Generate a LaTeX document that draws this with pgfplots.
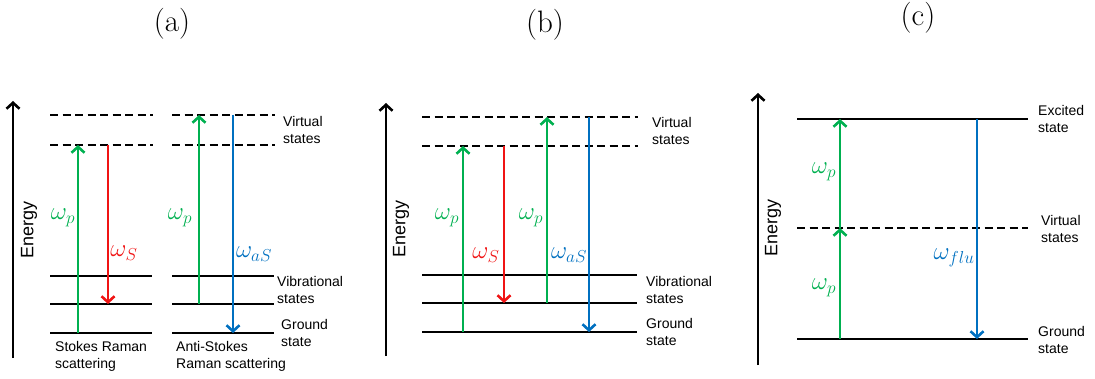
\documentclass[border=0pt]{standalone}
\usepackage{pgfplots}
\pgfplotsset{compat=1.18}
\usetikzlibrary{arrows.meta}
\usepackage{fontspec}
\newfontfamily\arial{Liberation Sans}
\definecolor{cg}{RGB}{0,176,80}
\definecolor{cr}{RGB}{240,20,20}
\definecolor{cb}{RGB}{0,112,192}
\tikzset{
  lev/.style={black, line width=2.7pt, mark=none},
  dsh/.style={black, line width=2.7pt, mark=none, dash pattern=on 8pt off 4.5pt},
  arr/.style={line width=2.6pt, mark=none, -{Straight Barb[length=6pt,width=13pt]}},
  txt/.style={anchor=west, align=left, font=\arial\fontsize{14}{17}\selectfont, inner sep=0pt},
  om/.style={font=\fontsize{23}{26}\selectfont, inner sep=0pt},
  ttl/.style={font=\fontsize{31}{34}\selectfont, inner sep=0pt},
  en/.style={rotate=90, font=\arial\fontsize{18}{20}\selectfont, inner sep=0pt}
}
\begin{document}
\begin{tikzpicture}
\begin{axis}[scale only axis, width=1095pt, height=379pt,
  xmin=0, xmax=1095, ymin=0, ymax=379, y dir=reverse,
  hide axis, clip=false]
% ---------- (a) ----------
\addplot[arr, black] coordinates {(13,358) (13,101)};
\addplot[dsh] coordinates {(50,115) (153,115)};
\addplot[dsh] coordinates {(172,115) (275,115)};
\addplot[dsh] coordinates {(50,145) (153,145)};
\addplot[dsh] coordinates {(172,145) (275,145)};
\addplot[lev] coordinates {(50,276) (152,276)};
\addplot[lev] coordinates {(172,276) (274,276)};
\addplot[lev] coordinates {(50,304) (152,304)};
\addplot[lev] coordinates {(172,304) (274,304)};
\addplot[lev] coordinates {(50,333) (152,333)};
\addplot[lev] coordinates {(172,333) (274,333)};
\addplot[arr, cg] coordinates {(78,333) (78,145)};
\addplot[arr, cr] coordinates {(108,145) (108,304)};
\addplot[arr, cg] coordinates {(199,304) (199,115)};
\addplot[arr, cb] coordinates {(233,115) (233,333)};
% ---------- (b) ----------
\addplot[arr, black] coordinates {(386,356) (386,103)};
\addplot[dsh] coordinates {(422,117) (638,117)};
\addplot[dsh] coordinates {(422,146) (638,146)};
\addplot[lev] coordinates {(422,275) (637,275)};
\addplot[lev] coordinates {(422,303) (637,303)};
\addplot[lev] coordinates {(422,332) (637,332)};
\addplot[arr, cg] coordinates {(463,332) (463,146)};
\addplot[arr, cr] coordinates {(504,146) (504,303)};
\addplot[arr, cg] coordinates {(547,303) (547,117)};
\addplot[arr, cb] coordinates {(589,117) (589,332)};
% ---------- (c) ----------
\addplot[arr, black] coordinates {(758,365) (758,93)};
\addplot[lev] coordinates {(797,119) (1028,119)};
\addplot[dsh] coordinates {(797,228) (1028,228)};
\addplot[lev] coordinates {(797,339) (1028,339)};
\addplot[arr, cg] coordinates {(840,339) (840,228)};
\addplot[arr, cg] coordinates {(840,228) (840,119)};
\addplot[arr, cb] coordinates {(977,119) (977,339)};
% ---------- texts ----------
\node[ttl] at (axis cs:172,24) {(a)};
\node[ttl] at (axis cs:545,25) {(b)};
\node[ttl] at (axis cs:918,18) {(c)};
\node[en] at (axis cs:29,230) {Energy};
\node[en] at (axis cs:401,229) {Energy};
\node[en] at (axis cs:773,228) {Energy};
% (a)
\node[om, text=cg] at (axis cs:63,218) {$\omega_p$};
\node[om, text=cr] at (axis cs:124,253) {$\omega_S$};
\node[om, text=cg] at (axis cs:180,218) {$\omega_p$};
\node[om, text=cb] at (axis cs:254,254) {$\omega_{aS}$};
\node[txt] at (axis cs:283,130) {Virtual\\states};
\node[txt] at (axis cs:277,290) {Vibrational\\states};
\node[txt] at (axis cs:281,333) {Ground\\state};
\node[txt] at (axis cs:55,356) {Stokes Raman\\scattering};
\node[txt] at (axis cs:176,356) {Anti-Stokes\\Raman scattering};
% (b)
\node[om, text=cg] at (axis cs:447,218) {$\omega_p$};
\node[om, text=cr] at (axis cs:486,255) {$\omega_S$};
\node[om, text=cg] at (axis cs:531,218) {$\omega_p$};
\node[om, text=cb] at (axis cs:569,255) {$\omega_{aS}$};
\node[txt] at (axis cs:652,131) {Virtual\\states};
\node[txt] at (axis cs:646,290) {Vibrational\\states};
\node[txt] at (axis cs:646,332) {Ground\\state};
% (c)
\node[om, text=cg] at (axis cs:824,172) {$\omega_p$};
\node[om, text=cg] at (axis cs:824,288) {$\omega_p$};
\node[om, text=cb] at (axis cs:954,258) {$\omega_{flu}$};
\node[txt] at (axis cs:1038,119) {Excited\\state};
\node[txt] at (axis cs:1041,229) {Virtual\\states};
\node[txt] at (axis cs:1038,340) {Ground\\state};
\end{axis}
\pgfresetboundingbox
\path (0,0) rectangle (1095pt,379pt);
\end{tikzpicture}
\end{document}
